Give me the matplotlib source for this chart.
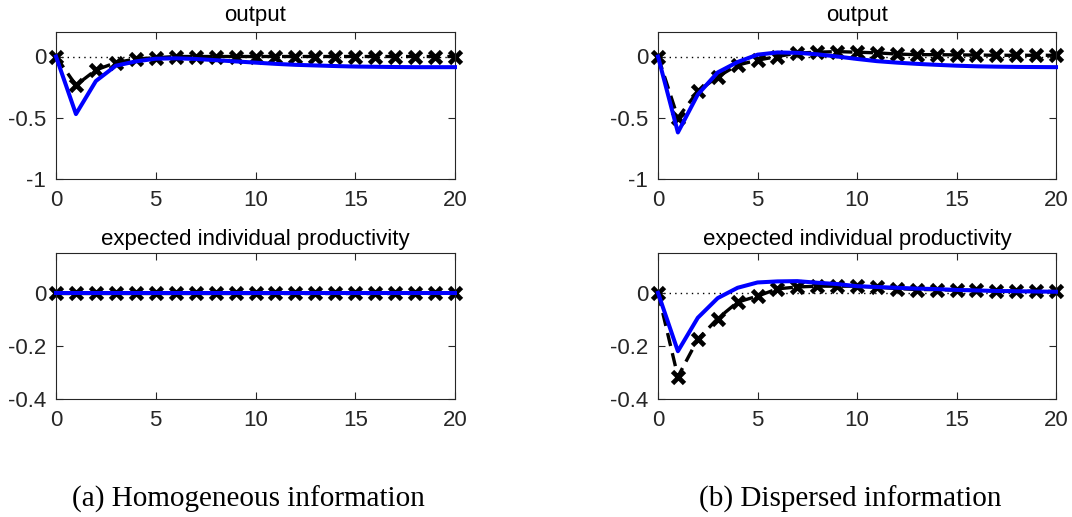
import matplotlib
matplotlib.use("Agg")
import matplotlib.pyplot as plt
import numpy as np

periods = list(range(21))

# (a) Homogeneous information
homog_output_blue = [0, -0.47, -0.20, -0.075, -0.04, -0.018, -0.015, -0.02, -0.03, -0.04,
                     -0.05, -0.06, -0.068, -0.073, -0.078, -0.082, -0.084, -0.086, -0.087, -0.087, -0.087]
homog_output_black = [0, -0.235, -0.11, -0.05, -0.02, -0.01, 0, 0, 0, 0,
                      0, 0, 0, 0, 0, 0, 0, 0, 0, 0, 0]
homog_prod_blue = [0] * 21
homog_prod_black = [0] * 21

# (b) Dispersed information
disp_output_blue = [0, -0.62, -0.31, -0.13, -0.045, 0.015, 0.033, 0.03, 0.018, 0.0,
                    -0.02, -0.038, -0.05, -0.06, -0.068, -0.075, -0.08, -0.083, -0.085, -0.086, -0.087]
disp_output_black = [0, -0.50, -0.285, -0.165, -0.07, -0.03, 0.0, 0.028, 0.035, 0.04,
                     0.035, 0.03, 0.02, 0.015, 0.015, 0.013, 0.012, 0.01, 0.01, 0.01, 0.01]
disp_prod_blue = [0, -0.22, -0.094, -0.02, 0.019, 0.039, 0.043, 0.044, 0.038, 0.033,
                  0.025, 0.022, 0.019, 0.016, 0.014, 0.011, 0.009, 0.007, 0.006, 0.005, 0.004]
disp_prod_black = [0, -0.316, -0.175, -0.097, -0.035, -0.0125, 0.015, 0.022, 0.025, 0.025,
                   0.025, 0.021, 0.016, 0.0125, 0.012, 0.01, 0.009, 0.007, 0.006, 0.006, 0.005]

titles = ["output", "expected individual productivity"]
captions = ["(a) Homogeneous information", "(b) Dispersed information"]
ylims = [(-1, 0.2), (-0.4, 0.15)]
yticks = [[-1, -0.5, 0], [-0.4, -0.2, 0]]
ytick_labels = [["-1", "-0.5", "0"], ["-0.4", "-0.2", "0"]]
xticks = [0, 5, 10, 15, 20]

plt.rcParams["font.family"] = ["Liberation Sans", "DejaVu Sans"]

fig = plt.figure(figsize=(10.72, 5.17), dpi=100)
W, H = 1072, 517

def ax_at(x0, y0, x1, y1):
    return fig.add_axes([x0 / W, 1 - y1 / H, (x1 - x0) / W, (y1 - y0) / H])

boxes = {
    (0, 0): (56, 32, 455, 179),
    (0, 1): (658, 32, 1056, 179),
    (1, 0): (56, 253, 455, 399),
    (1, 1): (658, 253, 1056, 399),
}
data = {
    (0, 0): (homog_output_blue, homog_output_black),
    (0, 1): (disp_output_blue, disp_output_black),
    (1, 0): (homog_prod_blue, homog_prod_black),
    (1, 1): (disp_prod_blue, disp_prod_black),
}
title_pads = [8.0, 5.5]

edge = "#262626"
for (r, c), box in boxes.items():
    ax = ax_at(*box)
    blue, black = data[(r, c)]
    ax.axhline(0, color="black", lw=1.0, ls=(0, (1, 3)), zorder=1)
    ax.plot(periods, black, color="black", ls=(0, (4, 2.2)), lw=2.4, marker="x",
            ms=8.5, mew=3.4, zorder=2, clip_on=False)
    ax.plot(periods, blue, color="#0000ff", lw=2.9, zorder=3, clip_on=False)
    ax.set_xlim(0, 20)
    ax.set_ylim(*ylims[r])
    ax.set_xticks(xticks)
    ax.set_xticklabels([str(t) for t in xticks])
    ax.set_yticks(yticks[r])
    ax.set_yticklabels(ytick_labels[r])
    ax.tick_params(direction="in", top=True, right=True, length=5, width=0.8,
                   colors=edge, labelsize=16)
    ax.tick_params(axis="x", pad=8)
    ax.tick_params(axis="y", pad=7)
    for s in ax.spines.values():
        s.set_color(edge)
        s.set_linewidth(0.8)
    ax.set_title(titles[r], fontsize=16, color="black", pad=title_pads[r])

fig.text(248 / W, 1 - 507 / H, captions[0], ha="center", va="baseline",
         fontsize=21, family="Liberation Serif")
fig.text(850 / W, 1 - 507 / H, captions[1], ha="center", va="baseline",
         fontsize=21, family="Liberation Serif")

fig.savefig("out.png", dpi=100)
